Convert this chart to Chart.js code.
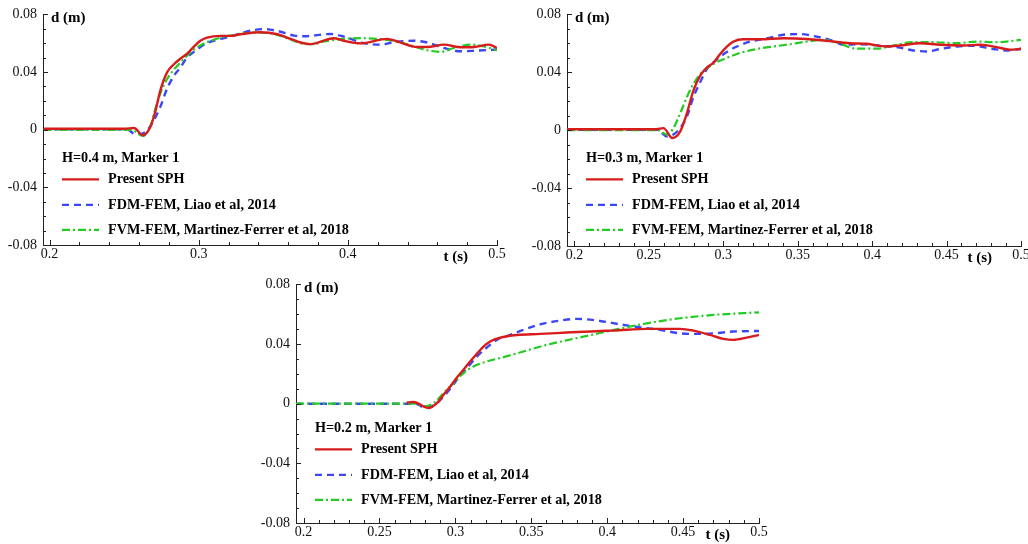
<!DOCTYPE html>
<html>
<head>
<meta charset="utf-8">
<script src="https://cdn.jsdelivr.net/npm/chart.js@4.4.1/dist/chart.umd.min.js"></script>
<style>
  html, body { margin: 0; padding: 0; background: #fff; width: 1028px; height: 544px; overflow: hidden; }
  canvas { position: absolute; }
</style>
</head>
<body>
<canvas id="c1" width="510" height="270" style="left:0;top:0"></canvas>
<canvas id="c2" width="530" height="270" style="left:515px;top:0"></canvas>
<canvas id="c3" width="520" height="274" style="left:250px;top:270px"></canvas>
<script>
// tick labels
const yTicks = [-0.08, -0.04, 0, 0.04, 0.08];
const xTicks1 = [0.2, 0.3, 0.4, 0.5];
const xTicks2 = [0.2, 0.25, 0.3, 0.35, 0.4, 0.45, 0.5];
const xTicks3 = [0.2, 0.25, 0.3, 0.35, 0.4, 0.45, 0.5];

const seriesNames = ["Present SPH", "FDM-FEM, Liao et al, 2014", "FVM-FEM, Martinez-Ferrer et al, 2018"];
const caseTitles = ["H=0.4 m, Marker 1", "H=0.3 m, Marker 1", "H=0.2 m, Marker 1"];

// H = 0.4 m  [t (s), d (m)]
const sphH04 = [[0.196,0.0007],[0.25,0.0007],[0.2566,0.0012],[0.2627,-0.0039],[0.2676,0.002],[0.271,0.013],[0.2743,0.0273],[0.2788,0.0398],[0.2834,0.0454],[0.2877,0.0493],[0.2922,0.0527],[0.2966,0.0574],[0.3011,0.0617],[0.3056,0.0639],[0.3146,0.0651],[0.3213,0.0651],[0.328,0.0662],[0.3414,0.0676],[0.3528,0.0662],[0.3616,0.063],[0.3683,0.0605],[0.375,0.0594],[0.3906,0.0635],[0.3973,0.0617],[0.4085,0.0599],[0.4264,0.063],[0.4332,0.0612],[0.4466,0.0574],[0.4533,0.0574],[0.4645,0.059],[0.4756,0.0572],[0.4846,0.0574],[0.4946,0.059],[0.5,0.0567]];
const fdmH04 = [[0.196,0.0002],[0.252,0.0002],[0.2574,-0.003],[0.2627,-0.0025],[0.2676,0.0025],[0.2743,0.016],[0.2788,0.0285],[0.2834,0.0375],[0.2877,0.0432],[0.2922,0.05],[0.2989,0.0556],[0.3056,0.0601],[0.3146,0.063],[0.3235,0.0653],[0.3347,0.0687],[0.3436,0.0698],[0.3528,0.0685],[0.364,0.0653],[0.3705,0.0648],[0.3884,0.0664],[0.3973,0.0646],[0.4107,0.0601],[0.4219,0.059],[0.4309,0.0608],[0.4443,0.0617],[0.4533,0.0605],[0.4645,0.0567],[0.4756,0.0544],[0.4868,0.0549],[0.5,0.0556]];
const fvmH04 = [[0.196,-0.0002],[0.255,-0.0002],[0.2627,-0.0043],[0.2676,0.0025],[0.272,0.0183],[0.2765,0.0307],[0.281,0.0386],[0.2877,0.0466],[0.2944,0.0534],[0.3011,0.0585],[0.3101,0.0624],[0.3213,0.0653],[0.3369,0.0673],[0.3481,0.0669],[0.3593,0.0635],[0.3683,0.0601],[0.3772,0.0594],[0.384,0.0612],[0.3973,0.063],[0.4085,0.0635],[0.4219,0.0628],[0.4332,0.0612],[0.4443,0.0578],[0.4533,0.0551],[0.4622,0.054],[0.4711,0.0567],[0.4823,0.059],[0.4912,0.0578],[0.5,0.0551]];

// H = 0.3 m
const sphH03 = [[0.195,0.0007],[0.255,0.0007],[0.2598,0.0014],[0.2658,-0.0054],[0.271,-0.001],[0.2755,0.0115],[0.2799,0.0273],[0.2844,0.0375],[0.2889,0.0432],[0.2934,0.0466],[0.2979,0.0527],[0.3024,0.0578],[0.3068,0.0612],[0.3135,0.0628],[0.3247,0.0628],[0.3404,0.0635],[0.3561,0.063],[0.3695,0.0617],[0.3852,0.0601],[0.3964,0.0597],[0.4098,0.0578],[0.4187,0.0585],[0.4322,0.0601],[0.4456,0.059],[0.4613,0.0585],[0.4725,0.059],[0.4837,0.0574],[0.4926,0.0556],[0.5,0.0563]];
const fdmH03 = [[0.195,0.0002],[0.256,0.0002],[0.2621,-0.0043],[0.2665,-0.003],[0.271,0.0014],[0.2755,0.0093],[0.2799,0.0228],[0.2844,0.033],[0.2889,0.042],[0.2956,0.0488],[0.3024,0.054],[0.3091,0.0578],[0.318,0.0612],[0.3292,0.0635],[0.3426,0.0662],[0.3516,0.0664],[0.3628,0.0646],[0.3739,0.0617],[0.3807,0.059],[0.3919,0.0594],[0.4053,0.0583],[0.4165,0.0574],[0.4277,0.0551],[0.4367,0.0544],[0.4456,0.0561],[0.4568,0.0578],[0.468,0.0583],[0.4814,0.0561],[0.4904,0.0551],[0.5,0.0561]];
const fvmH03 = [[0.195,0],[0.256,0],[0.2621,-0.003],[0.2665,0.0014],[0.271,0.0115],[0.2755,0.0228],[0.2799,0.0319],[0.2844,0.0386],[0.2889,0.0427],[0.2956,0.047],[0.3024,0.05],[0.3113,0.0534],[0.3225,0.0561],[0.3337,0.0578],[0.3449,0.0594],[0.3561,0.0612],[0.3672,0.0624],[0.3762,0.0605],[0.3897,0.0563],[0.4031,0.0563],[0.4142,0.0585],[0.4277,0.0608],[0.4411,0.0608],[0.4568,0.0601],[0.4703,0.0612],[0.4837,0.0608],[0.5,0.0624]];

// H = 0.2 m
const sphH02 = [[0.268,0.0008],[0.2724,0.0011],[0.2823,-0.0029],[0.2878,0.0004],[0.2922,0.006],[0.2966,0.0116],[0.301,0.0176],[0.3053,0.0227],[0.3097,0.0283],[0.3141,0.0334],[0.3185,0.0383],[0.3229,0.0417],[0.3295,0.0443],[0.3405,0.0461],[0.3558,0.0468],[0.3734,0.0477],[0.3953,0.0488],[0.4041,0.049],[0.4261,0.0502],[0.448,0.0502],[0.4568,0.049],[0.4677,0.0461],[0.4765,0.0435],[0.4831,0.0428],[0.4919,0.0443],[0.5,0.0461]];
const fdmH02 = [[0.195,0],[0.274,0],[0.2801,-0.0029],[0.2878,0.0004],[0.2922,0.0049],[0.2966,0.01],[0.301,0.016],[0.3076,0.0238],[0.3141,0.0316],[0.3207,0.0377],[0.3273,0.0428],[0.3361,0.0461],[0.3448,0.0495],[0.3558,0.0532],[0.369,0.0557],[0.38,0.0569],[0.3953,0.0555],[0.4085,0.0532],[0.4217,0.0512],[0.4348,0.0495],[0.448,0.0472],[0.459,0.0468],[0.4699,0.0472],[0.4831,0.0484],[0.5,0.0488]];
const fvmH02 = [[0.195,0],[0.274,0],[0.2801,-0.0018],[0.2856,0.0004],[0.2922,0.0071],[0.2988,0.0138],[0.3053,0.0205],[0.3119,0.025],[0.3207,0.0283],[0.3317,0.0312],[0.3448,0.035],[0.3602,0.0395],[0.3778,0.0435],[0.3953,0.0474],[0.4041,0.0494],[0.4261,0.0539],[0.448,0.0573],[0.4699,0.0595],[0.5,0.0613]];

const SERIF = "'Liberation Serif', 'Times New Roman', serif";
const lineStyles = [
  { borderColor: "#d81c1c", borderWidth: 2.4, borderDash: [], order: 0 },
  { borderColor: "#3c46f5", borderWidth: 2.4, borderDash: [7, 5], order: 2 },
  { borderColor: "#22cc22", borderWidth: 2.2, borderDash: [8, 3, 2, 3], order: 1 },
];

// inward ticks, axis titles and the in-plot legend
const decorPlugin = {
  id: "decor",
  afterDraw(chart, args, o) {
    const { ctx, chartArea: a, scales } = chart;
    const xs = scales.x, ys = scales.y;
    ctx.save();
    ctx.strokeStyle = "#222";
    ctx.lineWidth = 1;
    ctx.beginPath();
    for (let v = o.xTicks[0]; v <= 0.5001; v += o.xMinor) {
      const px = Math.round(xs.getPixelForValue(v)) + 0.5;
      const major = o.xTicks.some((t) => Math.abs(t - v) < 1e-6);
      ctx.moveTo(px, a.bottom);
      ctx.lineTo(px, a.bottom - (major ? 5 : 3));
    }
    for (let v = -0.08; v <= 0.0801; v += 0.01) {
      const py = Math.round(ys.getPixelForValue(v)) + 0.5;
      const major = yTicks.some((t) => Math.abs(t - v) < 1e-6);
      ctx.moveTo(a.left, py);
      ctx.lineTo(a.left + (major ? 5 : 3), py);
    }
    ctx.stroke();

    ctx.fillStyle = "#000";
    ctx.font = "bold 15px " + SERIF;
    ctx.textBaseline = "middle";
    ctx.textAlign = "left";
    ctx.fillText("d (m)", a.left + 8, a.top + 4);
    ctx.textAlign = "right";
    ctx.fillText("t (s)", a.right - 29, a.bottom + 12);

    // legend
    const lx = a.left + 19;
    ctx.font = "bold 14.2px " + SERIF;
    ctx.textAlign = "left";
    ctx.fillText(o.title, lx, a.top + 144);
    const rows = [165, 190.5, 215.5];
    chart.data.datasets.forEach((ds, i) => {
      const y = a.top + rows[i];
      ctx.strokeStyle = ds.borderColor;
      ctx.lineWidth = ds.borderWidth;
      ctx.setLineDash(ds.borderDash);
      ctx.beginPath();
      ctx.moveTo(lx, y);
      ctx.lineTo(lx + 37, y);
      ctx.stroke();
      ctx.setLineDash([]);
      ctx.fillStyle = "#000";
      ctx.fillText(ds.label, lx + 46, y);
    });
    ctx.restore();
  },
};

function makePanel(id, p) {
  const datasets = p.series.map((s, i) => ({
    label: seriesNames[i],
    data: s.map((d) => ({ x: d[0], y: d[1] })),
    ...lineStyles[i],
    pointRadius: 0,
    fill: false,
    cubicInterpolationMode: "monotone",
  }));
  const tickFont = { family: SERIF, size: 14 };
  return new Chart(document.getElementById(id), {
    type: "line",
    data: { datasets },
    plugins: [decorPlugin],
    options: {
      responsive: false,
      animation: false,
      events: [],
      layout: { padding: p.padding },
      plugins: {
        legend: { display: false },
        tooltip: { enabled: false },
        decor: { title: p.title, xTicks: p.xTicks, xMinor: p.xMinor },
      },
      scales: {
        x: {
          type: "linear",
          min: p.xMin,
          max: 0.5,
          grid: { display: false, drawTicks: false },
          border: { display: true, color: "#222", width: 1 },
          ticks: { font: tickFont, color: "#111", padding: p.xPad, maxRotation: 0, autoSkip: false, callback: (v) => String(v) },
          afterBuildTicks: (s) => { s.ticks = p.xTicks.map((v) => ({ value: v })); },
          afterFit: (s) => { s.height = p.xHeight; },
        },
        y: {
          type: "linear",
          min: -0.08,
          max: 0.08,
          grid: { display: false, drawTicks: false },
          border: { display: true, color: "#222", width: 1 },
          ticks: { font: tickFont, color: "#111", padding: 6, autoSkip: false, callback: (v) => String(v) },
          afterBuildTicks: (s) => { s.ticks = yTicks.map((v) => ({ value: v })); },
          afterFit: (s) => { s.width = p.yWidth; },
        },
      },
    },
  });
}

makePanel("c1", {
  series: [sphH04, fdmH04, fvmH04], title: caseTitles[0],
  xMin: 0.1956, xTicks: xTicks1, xMinor: 0.02,
  padding: { top: 9, right: 13, left: 0, bottom: 0 }, yWidth: 43, xHeight: 25, xPad: 1,
});
makePanel("c2", {
  series: [sphH03, fdmH03, fvmH03], title: caseTitles[1],
  xMin: 0.195, xTicks: xTicks2, xMinor: 0.01,
  padding: { top: 9, right: 24, left: 0, bottom: 0 }, yWidth: 52, xHeight: 24, xPad: 1,
});
makePanel("c3", {
  series: [sphH02, fdmH02, fvmH02], title: caseTitles[2],
  xMin: 0.195, xTicks: xTicks3, xMinor: 0.01,
  padding: { top: 13, right: 11, left: 0, bottom: 0 }, yWidth: 46, xHeight: 21, xPad: 1,
});
</script>
</body>
</html>
